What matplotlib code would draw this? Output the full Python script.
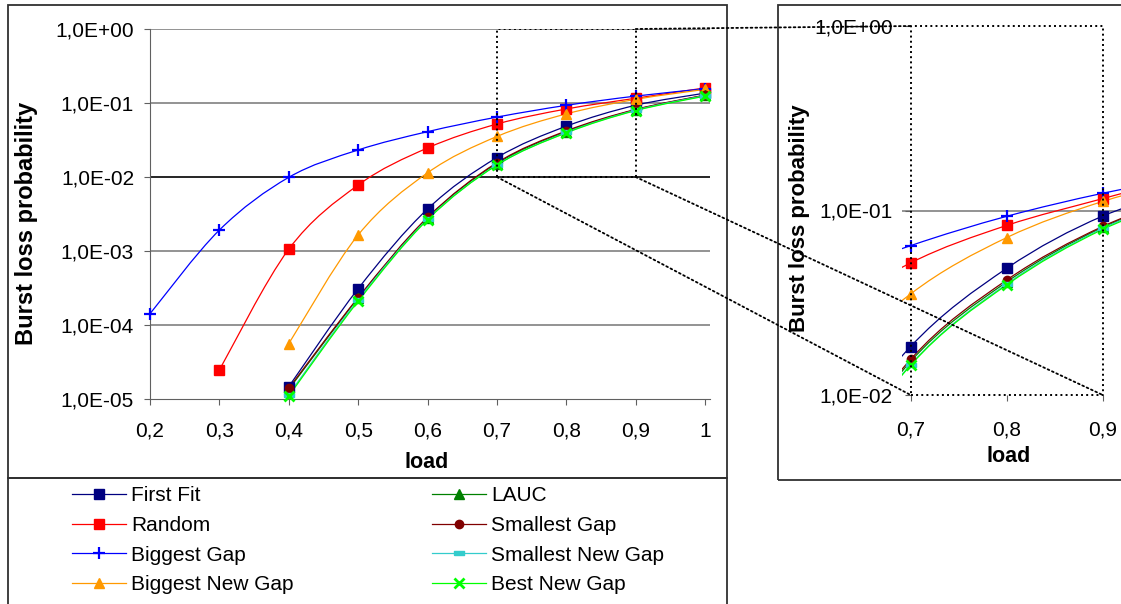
import numpy as np
import matplotlib
matplotlib.use('Agg')
import matplotlib.pyplot as plt
from matplotlib.path import Path
from matplotlib.patches import PathPatch, Rectangle, ConnectionPatch
from matplotlib.lines import Line2D
from matplotlib.ticker import FixedLocator, FuncFormatter, NullLocator

plt.rcParams['font.family'] = ['Liberation Sans', 'DejaVu Sans']

# data (None = no point)
load = [0.2, 0.3, 0.4, 0.5, 0.6, 0.7, 0.8, 0.9, 1.0]
first_fit = [None, None, 1.47e-5, 3.1e-4, 3.7e-3, 0.0183, 0.0486, 0.0933, 0.136]
random_ = [None, 2.47e-5, 1.06e-3, 7.8e-3, 0.0247, 0.052, 0.083, 0.116, 0.160]
biggest_gap = [1.42e-4, 1.92e-3, 9.9e-3, 0.0232, 0.041, 0.0645, 0.093, 0.124, 0.156]
biggest_new_gap = [None, None, 5.6e-5, 1.65e-3, 0.0114, 0.0353, 0.0713, 0.112, 0.153]
lauc = [None, None, 1.35e-5, 2.3e-4, 2.8e-3, 0.0152, 0.041, 0.081, 0.127]
smallest_gap = [None, None, 1.4e-5, 2.35e-4, 2.85e-3, 0.0156, 0.042, 0.082, 0.128]
smallest_new_gap = [None, None, 1.15e-5, 2.2e-4, 2.7e-3, 0.0146, 0.040, 0.080, 0.126]
best_new_gap = [None, None, 1.1e-5, 2.1e-4, 2.65e-3, 0.0145, 0.0395, 0.079, 0.124]

names = ['First Fit', 'Random', 'Biggest Gap', 'Biggest New Gap',
         'LAUC', 'Smallest Gap', 'Smallest New Gap', 'Best New Gap']
series = [first_fit, random_, biggest_gap, biggest_new_gap,
          lauc, smallest_gap, smallest_new_gap, best_new_gap]
colors = ['#000080', '#FF0000', '#0000FF', '#FF9900',
          '#008000', '#800000', '#33CCCC', '#00FF00']
dash = [(-1, -0.45), (1, -0.45), (1, 0.45), (-1, 0.45), (-1, -0.45)]
markers = ['s', 's', '+', '^', '^', 'o', dash, 'x']
msizes = [6.5, 6.5, 8.5, 7.5, 7.5, 6, 7.5, 7]
mews = [1, 1, 1.6, 1, 1, 1, 1, 2]

W, H = 1121, 604
def fx(px):
    return px / W
def fy(py):
    return 1 - py / H


def smooth_path(xs, ys):
    # Bezier through the points (Catmull-Rom control points in x/log y space)
    lx = np.asarray(xs, float)
    ly = np.log10(np.asarray(ys, float))
    n = len(lx)
    verts = [(lx[0], ly[0])]
    codes = [Path.MOVETO]
    for i in range(n - 1):
        p0 = np.array([lx[max(i - 1, 0)], ly[max(i - 1, 0)]])
        p1 = np.array([lx[i], ly[i]])
        p2 = np.array([lx[i + 1], ly[i + 1]])
        p3 = np.array([lx[min(i + 2, n - 1)], ly[min(i + 2, n - 1)]])
        c1 = p1 + (p2 - p0) / 6
        c2 = p2 - (p3 - p1) / 6
        verts += [tuple(c1), tuple(c2), tuple(p2)]
        codes += [Path.CURVE4] * 3
    verts = np.array(verts)
    verts[:, 1] = 10 ** verts[:, 1]
    return Path(verts, codes)


def draw_series(ax, clip_markers):
    for vals, name, c, m, ms, mew in zip(series, names, colors, markers, msizes, mews):
        xs = [x for x, v in zip(load, vals) if v is not None]
        ys = [v for v in vals if v is not None]
        ax.add_patch(PathPatch(smooth_path(xs, ys), fill=False, edgecolor=c, lw=0.9))
        ax.plot(xs, ys, ls='none', marker=m, ms=ms, mew=mew, color=c, mec=c,
                clip_on=clip_markers, zorder=3)


def sci_fmt(v, _):
    return f"{v:.1E}".replace('.', ',')


def load_fmt(v, _):
    return ('%g' % round(v, 2)).replace('.', ',')


fig = plt.figure(figsize=(W / 100, H / 100), dpi=100)

# main chart
ax = fig.add_axes([fx(150), fy(399), (710 - 150) / W, (399 - 29) / H])
ax.set_yscale('log')
ax.set_xlim(0.2, 1.007)
ax.set_ylim(1e-5, 1)
for g in [1e-4, 1e-3, 1e-1, 1]:
    ax.axhline(g, color='#808080', lw=1.2, zorder=0)
ax.axhline(1e-2, color='black', lw=1.2, zorder=0)
draw_series(ax, False)
ax.plot([0.7, 0.9, 0.9, 0.7, 0.7], [1e-2, 1e-2, 1, 1, 1e-2], ls=':', color='black',
        lw=1.4, zorder=4)
for s in ['top', 'right']:
    ax.spines[s].set_visible(False)
for s in ['left', 'bottom']:
    ax.spines[s].set_color('#606060')
ax.xaxis.set_major_locator(FixedLocator(load))
ax.xaxis.set_major_formatter(FuncFormatter(load_fmt))
ax.yaxis.set_major_locator(FixedLocator([1e-5, 1e-4, 1e-3, 1e-2, 1e-1, 1]))
ax.yaxis.set_minor_locator(NullLocator())
ax.yaxis.set_major_formatter(FuncFormatter(sci_fmt))
ax.tick_params(axis='x', length=4.5, color='#606060', pad=12, labelsize=15)
ax.tick_params(axis='y', length=4.5, color='#606060', pad=7, labelsize=15)
fig.text(fx(27), fy(223), 'Burst loss probability', rotation=90, fontsize=17,
         fontweight='bold', ha='center', va='center')
fig.text(fx(427), fy(462), 'load', fontsize=15.5, fontweight='bold', ha='center', va='center')

# zoomed inset
ax2 = fig.add_axes([fx(902), fy(395), (W - 902) / W, (395 - 26) / H])
ax2.set_yscale('log')
ax2.set_xlim(0.691, 0.919)
ax2.set_ylim(1e-2, 1)
ax2.axhline(0.1, color='#808080', lw=1.2, zorder=0)
draw_series(ax2, True)
ax2.plot([0.7, 0.9, 0.9, 0.7, 0.7], [1e-2, 1e-2, 1, 1, 1e-2], ls=':', color='black',
         lw=1.4, zorder=4, clip_on=False)
ax2.spines['left'].set_position(('data', 0.7))
for s in ax2.spines.values():
    s.set_visible(False)
ax2.xaxis.set_major_locator(FixedLocator([0.7, 0.8, 0.9]))
ax2.xaxis.set_major_formatter(FuncFormatter(load_fmt))
ax2.yaxis.set_major_locator(FixedLocator([1e-2, 1e-1, 1]))
ax2.yaxis.set_minor_locator(NullLocator())
ax2.yaxis.set_major_formatter(FuncFormatter(sci_fmt))
ax2.tick_params(axis='x', length=4, color='#606060', pad=14, labelsize=15)
ax2.tick_params(axis='y', length=4, color='#606060', pad=9, labelsize=15)
fig.text(fx(800), fy(218), 'Burst loss probability', rotation=90, fontsize=16,
         fontweight='bold', ha='center', va='center')
fig.text(fx(1009), fy(456), 'load', fontsize=15.5, fontweight='bold', ha='center', va='center')

# frames
fig.add_artist(Rectangle((fx(8), fy(478)), (727 - 8) / W, (478 - 5) / H,
                         transform=fig.transFigure, fill=False, ec='#303030', lw=1.3))
fig.add_artist(Rectangle((fx(8), fy(612)), (727 - 8) / W, (612 - 478) / H,
                         transform=fig.transFigure, fill=False, ec='#303030', lw=1.3))
fig.add_artist(Rectangle((fx(778), fy(480)), (1130 - 778) / W, (480 - 5) / H,
                         transform=fig.transFigure, fill=False, ec='#303030', lw=1.3))

# zoom connectors
for a, b in [((0.9, 1.0), (0.7, 1.0)), ((0.7, 1e-2), (0.7, 1e-2)), ((0.9, 1e-2), (0.9, 1e-2))]:
    con = ConnectionPatch(xyA=a, coordsA=ax.transData, xyB=b, coordsB=ax2.transData,
                          ls=':', color='black', lw=1.3, zorder=5)
    fig.add_artist(con)

# legend
handles = [Line2D([], [], color=c, lw=0.9, marker=m, ms=ms, mew=mew, mec=c)
           for c, m, ms, mew in zip(colors, markers, msizes, mews)]
for k, x0 in [(0, 72), (4, 432)]:
    fig.legend(handles[k:k + 4], names[k:k + 4], loc='upper left',
               bbox_to_anchor=(fx(x0), fy(486)), frameon=False, borderpad=0,
               borderaxespad=0, fontsize=15, handlelength=2.6, handletextpad=0.25,
               labelspacing=0.52)

fig.savefig('out.png', dpi=100)
